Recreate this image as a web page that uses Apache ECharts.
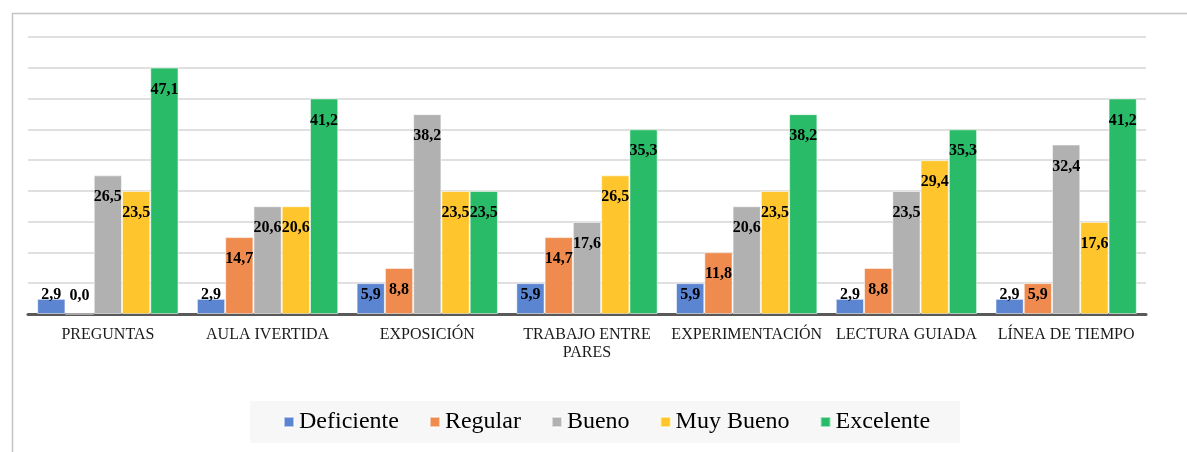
<!DOCTYPE html>
<html><head><meta charset="utf-8">
<script src="https://cdn.jsdelivr.net/npm/echarts@6/dist/echarts.min.js"></script>
<style>html,body{margin:0;padding:0;background:#fff}#c{width:1187px;height:452px}</style>
</head><body><div id="c"></div>
<script>
const categories = ['PREGUNTAS','AULA IVERTIDA','EXPOSICIÓN','TRABAJO ENTRE\nPARES','EXPERIMENTACIÓN','LECTURA GUIADA','LÍNEA DE TIEMPO'];
const seriesNames = ['Deficiente','Regular','Bueno','Muy Bueno','Excelente'];
const deficiente = [2.9, 2.9, 5.9, 5.9, 5.9, 2.9, 2.9];
const regular    = [0.0, 14.7, 8.8, 14.7, 11.8, 8.8, 5.9];
const bueno      = [26.5, 20.6, 38.2, 17.6, 20.6, 23.5, 32.4];
const muyBueno   = [23.5, 20.6, 23.5, 26.5, 23.5, 29.4, 17.6];
const excelente  = [47.1, 41.2, 23.5, 35.3, 38.2, 35.3, 41.2];
const colors = ['#5b84d1','#ef8b4e','#b1b1b1','#fec62c','#2abb69'];
const allValues = [deficiente, regular, bueno, muyBueno, excelente];

const step = 100/17;
const fmt = v => v.toFixed(1).replace('.', ',');
const serif = "'Liberation Serif','Times New Roman',serif";

const series = allValues.map((vals, i) => ({
  name: seriesNames[i],
  type: 'bar',
  barGap: '0%',
  barCategoryGap: '11.5%',
  itemStyle: { color: colors[i], borderColor: 'rgba(255,255,255,0.55)', borderWidth: 1 },
  data: vals.map(v => ({
    value: v,
    label: v < 7 ? { position: 'insideBottom', distance: 11 } : { position: 'insideTop', distance: 14 }
  })),
  label: {
    show: true,
    color: '#000',
    fontFamily: serif,
    fontWeight: 'bold',
    fontSize: 16,
    formatter: p => fmt(p.value)
  }
}));

const chart = echarts.init(document.getElementById('c'));
chart.setOption({
  animation: false,
  backgroundColor: '#fff',
  color: colors,
  graphic: [{
    type: 'rect', left: 10, top: 11, z: -10,
    shape: { width: 1300, height: 600 },
    style: { fill: 'none', stroke: '#c4c4c4', lineWidth: 1.5 }
  }],
  grid: { left: 28, right: 41, top: 37, bottom: 138 },
  xAxis: {
    type: 'category',
    data: categories,
    axisTick: { show: false },
    axisLine: { lineStyle: { color: '#595959', width: 3 } },
    axisLabel: { color: '#1a1a1a', fontFamily: serif, fontSize: 16, margin: 12, lineHeight: 18, interval: 0 }
  },
  yAxis: {
    type: 'value', min: 0, max: 9*step, interval: step,
    axisLabel: { show: false },
    axisLine: { show: false },
    axisTick: { show: false },
    splitLine: { lineStyle: { color: '#d6d6d6', width: 1.5 } }
  },
  legend: {
    left: 250, top: 401,
    itemWidth: 10, itemHeight: 10, itemGap: 30,
    backgroundColor: '#f7f7f7',
    padding: [9, 30, 9, 33],
    icon: 'rect',
    textStyle: { fontFamily: serif, fontSize: 24, lineHeight: 24, color: '#000' },
    data: seriesNames
  },
  series
});
</script></body></html>
